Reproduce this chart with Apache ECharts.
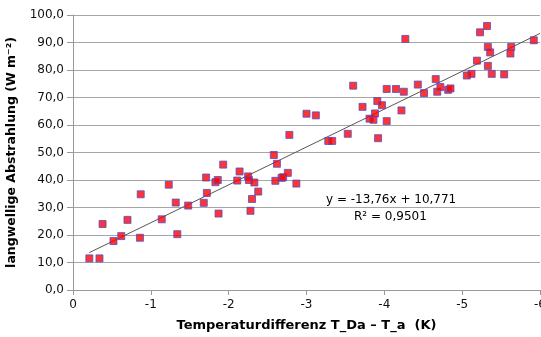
<!DOCTYPE html>
<html>
<head>
<meta charset="utf-8">
<script src="https://cdn.jsdelivr.net/npm/echarts@6/dist/echarts.min.js"></script>
<style>
  html, body { margin: 0; padding: 0; background: #fff; }
  #chart { width: 541px; height: 337px; }
</style>
</head>
<body>
<div id="chart"></div>
<script>
// Temperaturdifferenz (K)
const tempDiff = [
  -0.21, -0.34, -0.38, -0.52, -0.62, -0.86, -0.70, -0.87, -1.14, -1.23,
  -1.32, -1.34, -1.48, -1.68, -1.87, -1.72, -1.71, -1.83, -1.86, -1.93,
  -2.11, -2.14, -2.25, -2.26, -2.33, -2.38, -2.30, -2.28, -2.58, -2.62,
  -2.60, -2.68, -2.70, -2.76, -2.87, -2.78, -3.00, -3.12, -3.28, -3.33,
  -3.53, -3.92, -3.81, -3.86, -3.88, -4.03, -3.72, -3.91, -3.97, -4.22,
  -3.60, -4.03, -4.15, -4.25, -4.43, -4.51, -4.66, -4.68, -4.72, -4.82,
  -4.85, -5.06, -5.12, -5.19, -5.33, -5.38, -5.54, -5.33, -5.36, -5.23,
  -5.32, -5.63, -5.62, -5.92, -4.27
];
// langwellige Abstrahlung (W m-2)
const radiation = [
  11.5, 11.5, 24.0, 17.8, 19.6, 19.0, 25.5, 34.8, 25.7, 38.3,
  31.8, 20.3, 30.7, 31.7, 27.8, 35.3, 40.9, 39.2, 40.0, 45.6,
  39.8, 43.1, 41.3, 40.0, 39.1, 35.8, 33.1, 28.8, 49.1, 45.9,
  39.7, 40.8, 41.0, 42.6, 38.7, 56.4, 64.1, 63.5, 54.2, 54.2,
  56.8, 55.2, 62.3, 61.9, 64.2, 61.4, 66.6, 68.7, 67.2, 65.3,
  74.3, 73.1, 73.1, 72.1, 74.7, 71.6, 76.7, 72.1, 73.8, 72.8,
  73.3, 78.0, 78.6, 83.4, 81.5, 78.6, 78.4, 88.4, 86.4, 93.7,
  96.0, 88.4, 86.0, 90.8, 91.3
];
// trend line end points as drawn
const trendX = [-0.21, -6.0];
const trendY = [13.6, 93.3];

const equationText = 'y = -13,76x + 10,771';
const r2Text = 'R² = 0,9501';

const points = tempDiff.map((x, i) => [x, radiation[i]]);
const trend = trendX.map((x, i) => [x, trendY[i]]);

const fontFamily = '"DejaVu Sans", Verdana, sans-serif';
const chart = echarts.init(document.getElementById('chart'));

chart.setOption({
  animation: false,
  grid: { left: 73, right: 1, top: 15, bottom: 47, outerBoundsMode: 'none' },
  xAxis: {
    type: 'value',
    min: -6, max: 0, interval: 1,
    inverse: true,
    name: 'Temperaturdifferenz T_Da – T_a  (K)',
    nameLocation: 'middle',
    nameGap: 29,
    nameTextStyle: { fontFamily, fontSize: 13, fontWeight: 'bold', color: '#000' },
    axisLine: { onZero: false, lineStyle: { color: '#999', width: 1 } },
    axisTick: { show: true, length: 5, lineStyle: { color: '#999' } },
    axisLabel: { fontFamily, fontSize: 12, color: '#111', margin: 9 },
    splitLine: { show: false }
  },
  yAxis: {
    type: 'value',
    min: 0, max: 100, interval: 10,
    name: 'langwellige Abstrahlung (W m⁻²)',
    nameLocation: 'middle',
    nameGap: 44,
    nameTextStyle: { fontFamily, fontSize: 12.5, fontWeight: 'bold', color: '#000' },
    axisLine: { show: true, lineStyle: { color: '#999', width: 1 } },
    axisTick: { show: true, length: 6, lineStyle: { color: '#999' } },
    axisLabel: {
      fontFamily, fontSize: 12, color: '#111', margin: 9,
      formatter: v => v.toFixed(1).replace('.', ',')
    },
    splitLine: { show: true, lineStyle: { color: '#a6a6a6', width: 1 } }
  },
  graphic: [
    {
      type: 'text', left: 326, top: 194,
      style: { text: equationText, fontFamily, fontSize: 12, fill: '#000' }
    },
    {
      type: 'text', left: 354, top: 211,
      style: { text: r2Text, fontFamily, fontSize: 12, fill: '#000' }
    }
  ],
  series: [
    {
      type: 'line',
      data: trend,
      symbol: 'none',
      lineStyle: { color: '#555', width: 1 },
      z: 1
    },
    {
      type: 'scatter',
      data: points,
      symbol: 'rect',
      symbolSize: 7,
      itemStyle: { color: '#ff0000', borderColor: '#5050c8', borderWidth: 1 },
      z: 2
    }
  ]
});
</script>
</body>
</html>
